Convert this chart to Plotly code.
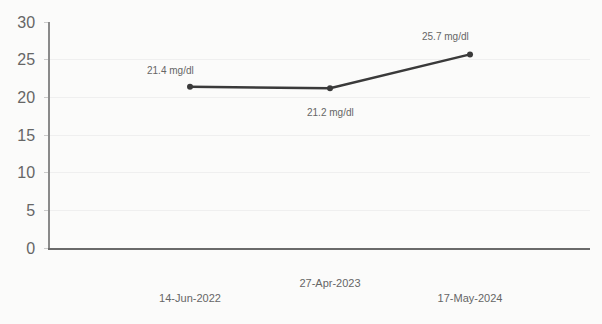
import plotly.graph_objects as go

# Test results over time
dates = ["14-Jun-2022", "27-Apr-2023", "17-May-2024"]
values = [21.4, 21.2, 25.7]
unit = "mg/dl"
y_ticks = [0, 5, 10, 15, 20, 25, 30]

# Stagger the date labels: middle one sits higher
tick_text = ["<br>" + dates[0], dates[1], "<br>" + dates[2]]
x_pos = list(range(len(dates)))

fig = go.Figure()
fig.add_trace(go.Scatter(
    x=x_pos, y=values, mode="lines+markers",
    line=dict(color="#3a3a3a", width=2.5),
    marker=dict(color="#3a3a3a", size=6),
    hoverinfo="skip", showlegend=False,
))

# Value labels beside each point
label_pos = [(-20, 16), (0, -24), (-25, 18)]
for xi, v, (dx, dy) in zip(x_pos, values, label_pos):
    fig.add_annotation(
        x=xi, y=v, text=f"{v} {unit}", showarrow=False,
        xshift=dx, yshift=dy,
        font=dict(family="Liberation Sans, Arial", size=10, color="#666"),
    )

fig.update_layout(
    width=602, height=324,
    margin=dict(l=50, r=12, t=22, b=76),
    paper_bgcolor="#fbfbfa", plot_bgcolor="#fbfbfa",
    font=dict(family="Liberation Sans, Arial", color="#555"),
)
fig.update_xaxes(
    range=[-1, 2.857], tickvals=x_pos, ticktext=tick_text,
    showgrid=False, zeroline=False,
    showline=True, linecolor="#6a6a6a", linewidth=2,
    ticks="", ticklabelstandoff=24,
    tickfont=dict(size=11, color="#666"),
)
fig.update_yaxes(
    range=[0, 30], tickvals=y_ticks,
    showgrid=True, gridcolor="#efefef", gridwidth=1,
    zeroline=False,
    showline=True, linecolor="#8a8a8a", linewidth=1.5,
    ticks="outside", ticklen=4, tickcolor="#ccc",
    ticklabelstandoff=6,
    tickfont=dict(size=16, color="#666"),
)

fig.write_html("out.html")
